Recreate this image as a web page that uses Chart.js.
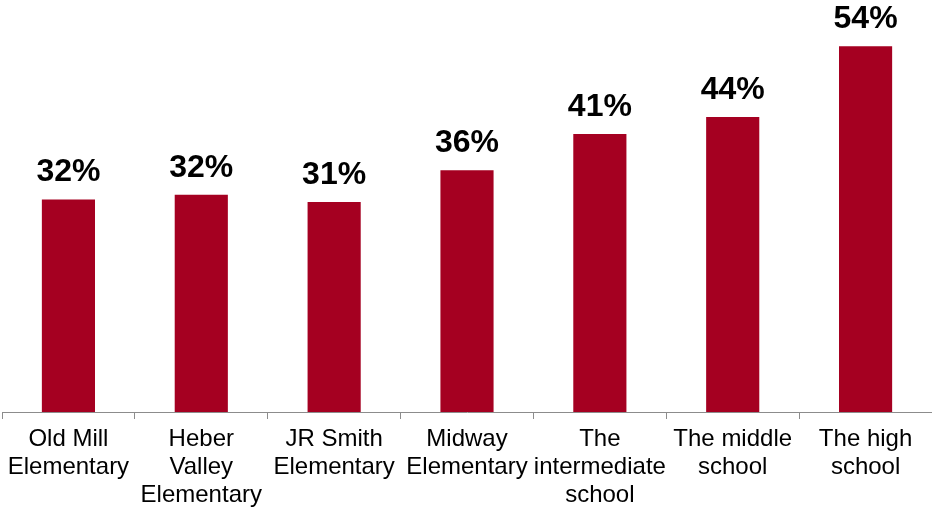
<!DOCTYPE html>
<html>
<head>
<meta charset="utf-8">
<script src="https://cdn.jsdelivr.net/npm/chart.js@4.4.0/dist/chart.umd.min.js"></script>
<style>
  html, body { margin: 0; padding: 0; background: #ffffff; }
  #wrap { width: 932px; height: 509px; position: relative; }
</style>
</head>
<body>
<div id="wrap"><canvas id="c"></canvas></div>
<script>
const categories = [
  ["Old Mill", "Elementary"],
  ["Heber", "Valley", "Elementary"],
  ["JR Smith", "Elementary"],
  ["Midway", "Elementary"],
  ["The", "intermediate", "school"],
  ["The middle", "school"],
  ["The high", "school"]
];
const values = [31.5, 32.2, 31.1, 35.8, 41.2, 43.7, 54.2];
const yMin = 0;
const yMax = 60;

const barColor = "#A50021";
const axisColor = "#8C8C8C";

const valueLabels = {
  id: "valueLabels",
  afterDatasetsDraw(chart) {
    const ctx = chart.ctx;
    const meta = chart.getDatasetMeta(0);
    ctx.save();
    ctx.font = "bold 32px 'Liberation Sans', Arial, sans-serif";
    ctx.fillStyle = "#000000";
    ctx.textAlign = "center";
    ctx.textBaseline = "alphabetic";
    meta.data.forEach((bar, i) => {
      const v = chart.data.datasets[0].data[i];
      ctx.fillText(Math.round(v) + "%", bar.x, bar.y - 18);
    });
    ctx.restore();
  }
};

new Chart(document.getElementById("c"), {
  type: "bar",
  data: {
    labels: categories,
    datasets: [{
      data: values,
      backgroundColor: barColor,
      borderWidth: 0,
      barPercentage: 0.4,
      categoryPercentage: 1.0
    }]
  },
  options: {
    responsive: true,
    maintainAspectRatio: false,
    animation: false,
    devicePixelRatio: 1,
    layout: { padding: { top: 7, left: 2, right: 0, bottom: 0 } },
    plugins: {
      legend: { display: false },
      tooltip: { enabled: false }
    },
    scales: {
      x: {
        offset: true,
        afterFit(scale) { scale.height = 97; },
        border: { display: true, color: axisColor, width: 1 },
        grid: {
          offset: true,
          drawOnChartArea: false,
          drawTicks: true,
          tickLength: 7,
          color: axisColor,
          lineWidth: 1
        },
        ticks: {
          color: "#000000",
          padding: 7,
          maxRotation: 0,
          minRotation: 0,
          autoSkip: false,
          font: { family: "'Liberation Sans', Arial, sans-serif", size: 24, lineHeight: 1.15 }
        }
      },
      y: {
        display: false,
        min: yMin,
        max: yMax
      }
    }
  },
  plugins: [valueLabels]
});
</script>
</body>
</html>
